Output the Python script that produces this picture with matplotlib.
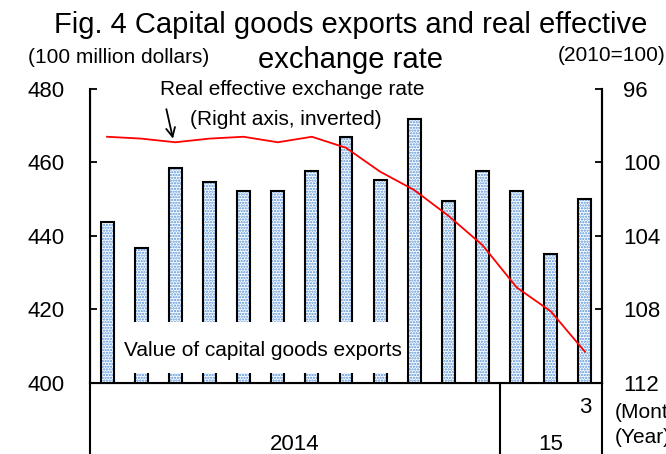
import numpy as np
import matplotlib
matplotlib.use("Agg")
import matplotlib.pyplot as plt
from matplotlib.patches import Rectangle

plt.rcParams["font.family"] = ["Liberation Sans", "DejaVu Sans"]
plt.rcParams["hatch.linewidth"] = 1.1

months = ["1", "2", "3", "4", "5", "6", "7", "8", "9", "10", "11", "12", "1", "2", "3"]
exports = [443.9, 436.8, 458.6, 454.7, 452.3, 452.3, 457.6, 467.0, 455.2, 471.7,
           449.5, 457.6, 452.3, 435.0, 450.0]
reer = [98.6, 98.7, 98.9, 98.7, 98.6, 98.9, 98.6, 99.2, 100.5, 101.5,
        102.9, 104.5, 106.8, 108.1, 110.3]
left_ticks = [400, 420, 440, 460, 480]
right_ticks = [96, 100, 104, 108, 112]

x = np.arange(len(exports))

fig = plt.figure(figsize=(6.66, 4.54), dpi=100)
ax = fig.add_axes([0.1351, 0.1564, 0.7688, 0.6476])

# dotted blue fill, then black outline on top
ax.bar(x, exports, width=0.38, color="white", hatch="......",
       edgecolor="#4f8fd8", linewidth=0, zorder=2)
ax.bar(x, exports, width=0.38, fill=False, edgecolor="black", linewidth=1.5, zorder=3)

ax.set_xlim(-0.5, len(exports) - 0.5)
ax.set_ylim(400, 480)
ax.set_yticks(left_ticks)
ax.set_xticks([])
ax.tick_params(axis="y", direction="in", length=5, width=1.3, labelsize=16, pad=18)
ax.spines["top"].set_visible(False)
for s in ["left", "right", "bottom"]:
    ax.spines[s].set_linewidth(1.5)

# white label box over the bars
ax.add_patch(Rectangle((0.055, 0.034), 0.564, 0.173, transform=ax.transAxes,
                       facecolor="white", edgecolor="none", zorder=4))
ax.text(0.338, 0.112, "Value of capital goods exports", transform=ax.transAxes,
        ha="center", va="center", fontsize=15, zorder=5)

ax2 = ax.twinx()
ax2.plot(x, reer, color="#ff0000", lw=1.3, zorder=4)
ax2.set_ylim(112, 96)
ax2.set_yticks(right_ticks)
ax2.tick_params(axis="y", direction="in", length=5, width=1.3, labelsize=16, pad=15)
ax2.spines["top"].set_visible(False)
ax2.spines["right"].set_linewidth(1.5)

ax2.annotate("", xy=(1.95, 98.85), xytext=(1.72, 96.95),
             arrowprops=dict(arrowstyle="->", color="black", lw=1.3, mutation_scale=16))
ax.text(0.395, 0.997, "Real effective exchange rate", transform=ax.transAxes,
        ha="center", va="center", fontsize=15)
ax.text(0.383, 0.895, "(Right axis, inverted)", transform=ax.transAxes,
        ha="center", va="center", fontsize=15)

# month / year table under the axis
xt = ax.get_xaxis_transform()
for xv in [-0.5, 11.5, len(exports) - 0.5]:
    ax.plot([xv, xv], [0, -0.3], transform=xt, color="black", lw=1.5, clip_on=False)
ax.text(14, -0.082, months[-1], transform=xt, ha="center", va="center", fontsize=16)
ax.text(5.5, -0.21, "2014", transform=xt, ha="center", va="center", fontsize=16)
ax.text(13, -0.21, "15", transform=xt, ha="center", va="center", fontsize=16)
ax.text(1.025, -0.102, "(Month)", transform=ax.transAxes, ha="left", va="center", fontsize=15)
ax.text(1.025, -0.187, "(Year)", transform=ax.transAxes, ha="left", va="center", fontsize=15)

fig.text(0.526, 0.927, "Fig. 4 Capital goods exports and real effective",
         ha="center", va="baseline", fontsize=21)
fig.text(0.526, 0.850, "exchange rate", ha="center", va="baseline", fontsize=21)
fig.text(0.042, 0.861, "(100 million dollars)", ha="left", va="baseline", fontsize=15)
fig.text(0.999, 0.865, "(2010=100)", ha="right", va="baseline", fontsize=15)

fig.savefig("out.png", dpi=100)
